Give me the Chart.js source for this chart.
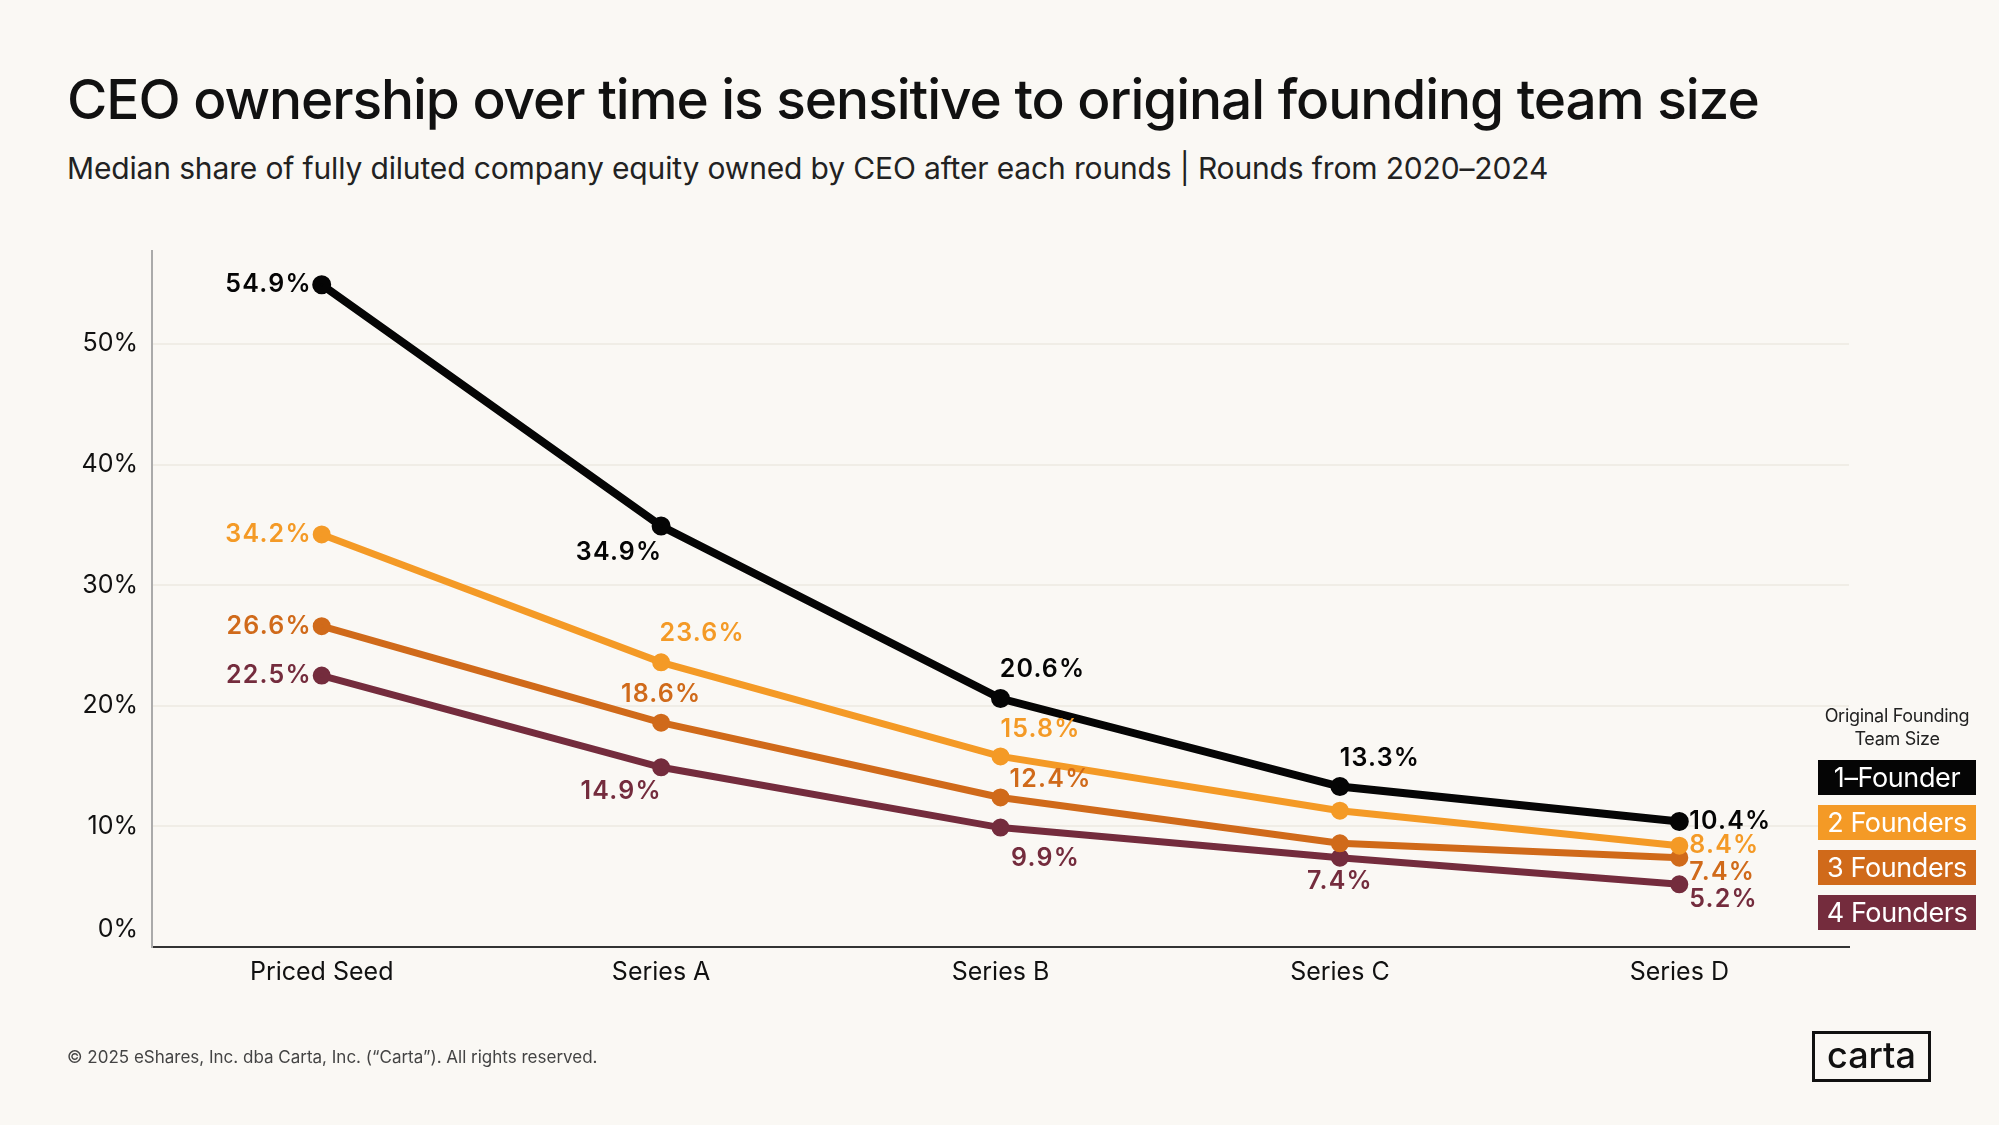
<!DOCTYPE html>
<html>
<head>
<meta charset="utf-8">
<script src="https://cdn.jsdelivr.net/npm/chart.js@4.4.1/dist/chart.umd.min.js"></script>
<style>
  html, body { margin: 0; padding: 0; background: #faf8f4; }
  body { width: 1999px; height: 1125px; position: relative; overflow: hidden; font-family: "Inter", "Lato", sans-serif; color: #111; }
  #titulo { position: absolute; left: 67px; top: 66px; font-size: 55px; font-weight: 500; letter-spacing: -1.05px; white-space: nowrap; }
  #subtitulo { position: absolute; left: 67px; top: 150px; font-size: 30px; font-weight: 400; letter-spacing: -0.15px; color: #222; white-space: nowrap; }
  #grafico { position: absolute; left: 0; top: 0; }
  #legenda { position: absolute; left: 1818px; top: 704px; width: 158px; text-align: center; }
  #legenda .cab { font-size: 18px; line-height: 23px; color: #222; letter-spacing: -0.3px; margin-bottom: 10px; }
  #legenda .item { height: 35px; line-height: 35px; margin-bottom: 10px; color: #fff; font-size: 27px; letter-spacing: -0.4px; }
  #rodape { position: absolute; left: 67px; top: 1047px; font-size: 17px; color: #444; }
  #logo { position: absolute; left: 1812px; top: 1031px; width: 113px; height: 45px; border: 3px solid #111; text-align: center; font-size: 36px; line-height: 43px; font-weight: 500; }
</style>
</head>
<body>
<div id="titulo">CEO ownership over time is sensitive to original founding team size</div>
<div id="subtitulo">Median share of fully diluted company equity owned by CEO after each rounds | Rounds from 2020–2024</div>
<canvas id="grafico" width="1999" height="1125"></canvas>
<div id="legenda"></div>
<div id="rodape">© 2025 eShares, Inc. dba Carta, Inc. (“Carta”). All rights reserved.</div>
<div id="logo">carta</div>
<script>
const rodadas = ["Priced Seed", "Series A", "Series B", "Series C", "Series D"];
const umFundador = [54.9, 34.9, 20.6, 13.3, 10.4];
const doisFundadores = [34.2, 23.6, 15.8, 11.3, 8.4];
const tresFundadores = [26.6, 18.6, 12.4, 8.6, 7.4];
const quatroFundadores = [22.5, 14.9, 9.9, 7.4, 5.2];
const nomesDasSeries = ["1–Founder", "2 Founders", "3 Founders", "4 Founders"];
const marcasDoEixoY = [0, 10, 20, 30, 40, 50];

const cores = ["#050505", "#f49a26", "#d06a1a", "#742c3d"];

// onde vai cada rotulo: [dx, dy, alinhamento] ou null quando nao tem rotulo
const posicoesDosRotulos = [
    [[-10, 0, "right"], [-42, 26, "center"], [42, -29, "center"], [40, -28, "center"], [10, 0, "left"]],
    [[-10, 0, "right"], [41, -29, "center"], [40, -27, "center"], null, [10, 0, "left"]],
    [[-10, 0, "right"], [0, -28, "center"], [50, -18, "center"], null, [10, 15, "left"]],
    [[-10, 0, "right"], [-40, 24, "center"], [45, 31, "center"], [0, 24, "center"], [10, 15, "left"]]
];

const legenda = document.querySelector("#legenda");
legenda.innerHTML = '<div class="cab">Original Founding<br>Team Size</div>' +
    nomesDasSeries.map((nome, i) => `<div class="item" style="background:${cores[i]}">${nome}</div>`).join("");

const rotulos = {
    id: "rotulos",
    afterDatasetsDraw(chart) {
        const ctx = chart.ctx;
        ctx.save();
        ctx.font = "600 25px Inter, Lato, sans-serif";
        ctx.letterSpacing = "1.2px";
        ctx.textBaseline = "middle";
        chart.data.datasets.forEach((ds, i) => {
            const meta = chart.getDatasetMeta(i);
            meta.data.forEach((ponto, j) => {
                const pos = posicoesDosRotulos[i][j];
                if (!pos) return;
                ctx.fillStyle = cores[i];
                ctx.textAlign = pos[2];
                ctx.fillText(ds.data[j].toFixed(1) + "%", ponto.x + pos[0], ponto.y + pos[1]);
            });
        });
        // o 0% do eixo fica um pouco acima da linha, como no original
        const eixoY = chart.scales.y;
        ctx.letterSpacing = "0px";
        ctx.font = "400 25px Inter, Lato, sans-serif";
        ctx.fillStyle = "#111";
        ctx.textAlign = "right";
        ctx.fillText("0%", eixoY.right - 14, eixoY.getPixelForValue(0) - 18);
        ctx.restore();
    }
};

function criarGrafico() {
    const ctx = document.querySelector("#grafico");
    const series = [umFundador, doisFundadores, tresFundadores, quatroFundadores];
    return new Chart(ctx, {
        type: "line",
        plugins: [rotulos],
        data: {
            labels: rodadas,
            datasets: series.map((valores, i) => ({
                label: nomesDasSeries[i],
                data: valores,
                borderColor: cores[i],
                backgroundColor: cores[i],
                borderWidth: i === 0 ? 8 : 7,
                pointRadius: 5.5,
                pointHoverRadius: 5.5,
                tension: 0,
                order: i
            }))
        },
        options: {
            responsive: false,
            animation: false,
            layout: { padding: { top: 251, right: 150, left: 0, bottom: 0 } },
            plugins: { legend: { display: false }, tooltip: { enabled: false } },
            scales: {
                x: {
                    offset: true,
                    grid: { display: false, drawTicks: false },
                    border: { color: "#333", width: 2 },
                    ticks: { color: "#111", padding: 10, font: { family: "Inter", size: 25 } },
                    afterFit: (eixo) => { eixo.height = 178; }
                },
                y: {
                    min: 0,
                    max: 57.7,
                    afterBuildTicks: (eixo) => { eixo.ticks = marcasDoEixoY.map(v => ({ value: v })); },
                    grid: { color: "#f0ede6", lineWidth: 2, drawTicks: false },
                    border: { color: "#aaa", width: 2 },
                    ticks: {
                        color: "#111",
                        padding: 14,
                        font: { family: "Inter", size: 25 },
                        callback: (v) => v === 0 ? "" : v + "%"
                    },
                    afterFit: (eixo) => { eixo.width = 152; }
                }
            }
        }
    });
}

criarGrafico();
</script>
</body>
</html>
